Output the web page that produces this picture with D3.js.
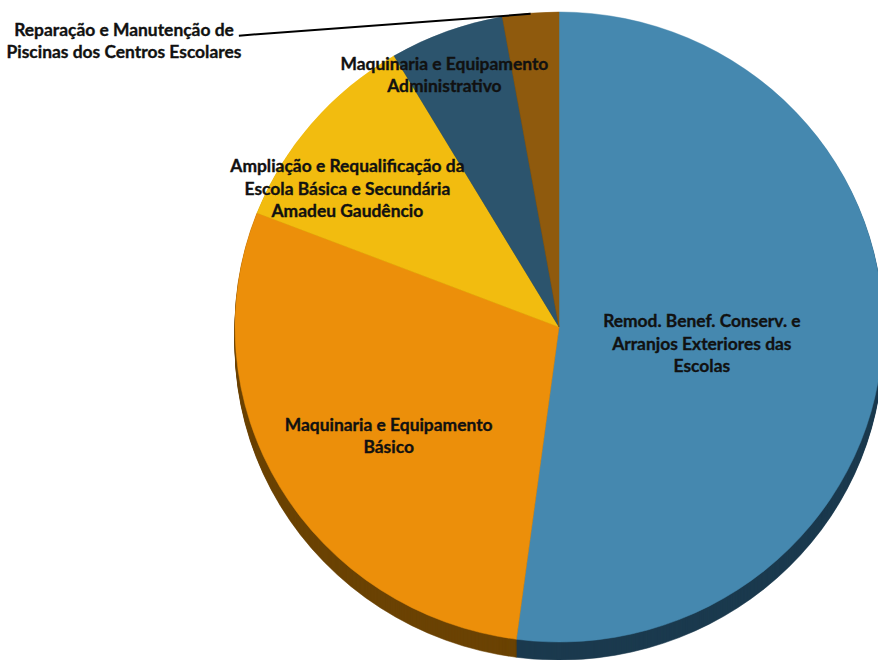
<!DOCTYPE html>
<html>
<head>
<meta charset="utf-8">
<script src="https://cdn.jsdelivr.net/npm/d3@7"></script>
<style>
  html, body { margin: 0; padding: 0; background: #ffffff; }
  svg { display: block; }
</style>
</head>
<body>
<svg id="chart" width="878" height="660"></svg>
<script>
// Investment shares by project line (percent of total)
const categories = [
  "Remod. Benef. Conserv. e Arranjos Exteriores das Escolas",
  "Maquinaria e Equipamento Básico",
  "Ampliação e Requalificação da Escola Básica e Secundária Amadeu Gaudêncio",
  "Maquinaria e Equipamento Administrativo",
  "Reparação e Manutenção de Piscinas dos Centros Escolares"
];
const values = [52.1, 28.8, 10.6, 5.7, 2.8];
const labelLines = [
  ["Remod. Benef. Conserv. e", "Arranjos Exteriores das", "Escolas"],
  ["Maquinaria e Equipamento", "Básico"],
  ["Ampliação e Requalificação da", "Escola Básica e Secundária", "Amadeu Gaudêncio"],
  ["Maquinaria e Equipamento", "Administrativo"],
  ["Reparação e Manutenção de", "Piscinas dos Centros Escolares"]
];

// Slice colours (top face) and darker tones for the extruded rim
const topColors  = ["#4588AF", "#EC8F0A", "#F2BC0F", "#2C546D", "#8F5A0D"];
const sideColors = ["#1B3A4E", "#6B4304", "#7A5E06", "#14283A", "#4A2E06"];

const svg = d3.select("#chart");
const cx = 559, cy = 327, rx = 324, ry = 315, depth = 18;
const squash = ry / rx;

const pie = d3.pie().sort(null).value(d => d);
const arcs = pie(values);
const arc = d3.arc().innerRadius(0).outerRadius(rx);

// Extruded rim: stacked copies of the pie, shifted downward
for (let i = depth; i >= 1; i--) {
  svg.append("g")
    .attr("transform", `translate(${cx},${cy + i}) scale(1,${squash})`)
    .selectAll("path")
    .data(arcs)
    .join("path")
    .attr("d", arc)
    .attr("fill", (d, k) => sideColors[k])
    .attr("stroke", (d, k) => sideColors[k])
    .attr("stroke-width", 0.6);
}

// Top face
svg.append("g")
  .attr("transform", `translate(${cx},${cy}) scale(1,${squash})`)
  .selectAll("path")
  .data(arcs)
  .join("path")
  .attr("d", arc)
  .attr("fill", (d, k) => topColors[k])
  .attr("stroke", (d, k) => topColors[k])
  .attr("stroke-width", 0.5);

// Map a polar position (angle from 12 o'clock, radius fraction) onto the elliptical face
function onFace(angle, frac) {
  return [cx + rx * frac * Math.sin(angle), cy - ry * frac * Math.cos(angle)];
}
const mid = d => (d.startAngle + d.endAngle) / 2;

// Label placement: angular offset (deg) from slice middle and radius fraction
const placement = [
  { dA: 3, r: 0.444 },
  { dA: -2.7, r: 0.629 },
  { dA: -6.4, r: 0.787 },
  { dA: -3.5, r: 0.875 }
];

const fontFamily = "Lato, 'Open Sans', sans-serif";
const lineGap = 22.5;

// Fit the label font so the text runs at the intended width
const probe = svg.append("text")
  .attr("font-family", fontFamily).attr("font-weight", 700).attr("font-size", 15)
  .text("Maquinaria e Equipamento");
const fontSize = 15 * 208 / probe.node().getComputedTextLength();
probe.remove();

function drawLabel(lines, x, yCenter) {
  const t = svg.append("text")
    .attr("font-family", fontFamily)
    .attr("font-weight", 700)
    .attr("font-size", fontSize)
    .attr("fill", "#111")
    .attr("stroke", "#111")
    .attr("stroke-width", 0.35)
    .attr("text-anchor", "middle");
  const y0 = yCenter - (lines.length - 1) * lineGap / 2;
  lines.forEach((ln, i) => {
    t.append("tspan")
      .attr("x", x)
      .attr("y", y0 + i * lineGap)
      .attr("dy", "0.35em")
      .text(ln);
  });
  return t;
}

placement.forEach((p, k) => {
  const [x, y] = onFace(mid(arcs[k]) + p.dA * Math.PI / 180, p.r);
  drawLabel(labelLines[k], x, y);
});

// Outside label with leader line for the smallest slice
const outsideLabel = drawLabel(labelLines[4], 124, 41);
const firstLine = outsideLabel.select("tspan").node();
const bb = firstLine.getBBox();
const [ex, ey] = onFace(mid(arcs[4]), 0.998);
svg.append("line")
  .attr("x1", bb.x + bb.width + 5)
  .attr("y1", bb.y + bb.height * 0.8)
  .attr("x2", ex)
  .attr("y2", ey)
  .attr("stroke", "#000")
  .attr("stroke-width", 2);
</script>
</body>
</html>
